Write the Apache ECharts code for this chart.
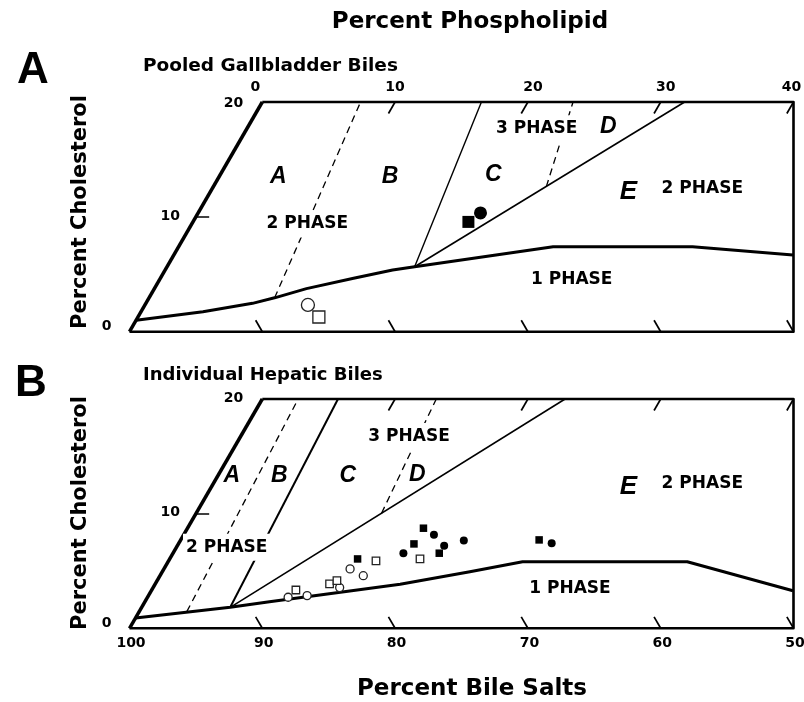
<!DOCTYPE html>
<html><head><meta charset="utf-8">
<script src="https://cdn.jsdelivr.net/npm/echarts@6/dist/echarts.min.js"></script>
<style>html,body{margin:0;padding:0;background:#fff}#c{width:804px;height:702px}</style>
</head><body><div id="c"></div>
<script>
// ===== DATA (every point is [percent bile salts, percent cholesterol]) =====
const bileSaltTicks = [100, 90, 80, 70, 60, 50];
const phospholipidTicks = [0, 10, 20, 30, 40];
const cholesterolTicks = [0, 10, 20];

// Panel A: pooled gallbladder biles
const pooledOnePhaseLimit = [[99.0,1.0],[93.6,1.74],[89.5,2.47],[87.6,2.95],[84.8,3.75],[80.8,4.65],[77.5,5.37],[75.7,5.66],[64.4,7.4],[53.9,7.4],[46.7,6.68]];
const pooledBoundaryAB = [[87.6,2.95],[72.6,20]];       // dashed
const pooledBoundaryBC = [[75.7,5.66],[63.5,20]];       // solid
const pooledBoundaryCE = [[75.7,5.66],[48.2,20]];       // solid
const pooledBoundaryCD = [[62.3,12.63],[56.6,20]];      // dashed
const pooledOpenCircles = [[85.4,2.33]];
const pooledOpenSquares = [[85.1,1.28]];
const pooledFilledSquares = [[69.7,9.56]];
const pooledFilledCircles = [[68.4,10.34]];

// Panel B: individual hepatic biles
const hepaticOnePhaseLimit = [[99.1,0.9],[91.5,1.83],[88.3,2.32],[77.7,3.84],[71.9,4.94],[67.5,5.8],[61.1,5.8],[55.1,5.8],[48.4,3.28]];
const hepaticBoundaryAB = [[94.96,1.45],[77.3,20]];     // dashed
const hepaticBoundaryBC = [[91.5,1.83],[74.3,20]];      // solid
const hepaticBoundaryCE = [[91.5,1.83],[57.2,20]];      // solid
const hepaticBoundaryCD = [[76.0,10.04],[66.9,20]];     // dashed
const hepaticOpenCircles = [[86.7,2.71],[85.2,2.85],[82.4,3.55],[80.8,5.18],[80.1,4.59]];
const hepaticOpenSquares = [[85.8,3.34],[83.0,3.87],[82.3,4.16],[78.5,5.88],[75.1,6.05]];
const hepaticFilledSquares = [[79.8,6.05],[74.9,7.36],[73.5,8.73],[73.4,6.55],[65.3,7.71]];
const hepaticFilledCircles = [[76.1,6.55],[73.0,8.15],[72.7,7.21],[71.0,7.65],[64.5,7.42]];

// ===== ternary -> cartesian (equilateral layout) =====
const T = p => [100 - p[0] - p[1] / 2, p[1]];
const FONT = '"DejaVu Sans", sans-serif';
const ARIAL = '"Liberation Sans", Arial, sans-serif';

function poly(gi, pts, width, dashed, z) {
  return { type: 'line', xAxisIndex: gi, yAxisIndex: gi, data: pts.map(T), symbol: 'none', showSymbol: false,
    clip: false, silent: true, z: z || 2, animation: false,
    lineStyle: { color: '#000', width: width, opacity: 1, type: dashed ? [7, 5] : 'solid', cap: 'butt', join: 'round' } };
}
function segs(gi, list, width) {
  return { type: 'lines', coordinateSystem: 'cartesian2d', xAxisIndex: gi, yAxisIndex: gi, silent: true, z: 2,
    data: list.map(s => ({ coords: s.map(T) })), lineStyle: { color: '#000', width: width, opacity: 1, curveness: 0 } };
}
function marks(gi, pts, shape, size, filled, z) {
  return { type: 'scatter', xAxisIndex: gi, yAxisIndex: gi, data: pts.map(T), symbol: shape, symbolSize: size,
    clip: false, silent: true, z: z,
    itemStyle: filled ? { color: '#000', opacity: 1 } : { color: '#fff', borderColor: '#222', borderWidth: 1.3, opacity: 1 } };
}
function texts(gi, items) {
  return { type: 'scatter', xAxisIndex: gi, yAxisIndex: gi, symbolSize: 1, clip: false, silent: true, z: 10,
    itemStyle: { color: 'rgba(255,255,255,0)', opacity: 1 },
    data: items.map(it => ({ name: it.text, value: it.at,
      label: Object.assign({ show: true, position: 'inside', formatter: '{b}', color: '#000', opacity: 1 }, it.style) })) };
}

const frameLeft = [[bileSaltTicks[0], cholesterolTicks[0]], [bileSaltTicks[0] - cholesterolTicks[2], cholesterolTicks[2]]];
const frameRest = [[bileSaltTicks[0] - cholesterolTicks[2], cholesterolTicks[2]],
  [100 - cholesterolTicks[2] - phospholipidTicks[4], cholesterolTicks[2]],
  [bileSaltTicks[5], 0], [bileSaltTicks[0], 0]];

function frameSeries(gi) {
  const bottomTicks = bileSaltTicks.slice(1).map(b => [[b, 0], [b, 1]]);
  const topTicks = phospholipidTicks.slice(1).map(pl => [[80 - pl, 20], [81 - pl, 19]]);
  const leftTicks = [[[90, 10], [89, 10]]];
  return [poly(gi, frameLeft, 3.5), poly(gi, frameRest, 2.6), segs(gi, bottomTicks.concat(topTicks, leftTicks), 1.7)];
}

const letter = { fontFamily: ARIAL, fontWeight: 'bold', fontStyle: 'italic', fontSize: 23 };
const phase = { fontFamily: FONT, fontWeight: 'bold', fontSize: 17, backgroundColor: '#fff', padding: [5, 3] };
const tick = { fontFamily: FONT, fontWeight: 'bold', fontSize: 14 };

// layout of annotations, in diagram coordinates [x, cholesterol]
const textsA = [
  { text: 'A', at: [11.2, 13.5], style: letter }, { text: 'B', at: [19.62, 13.5], style: letter },
  { text: 'C', at: [27.39, 13.65], style: letter }, { text: 'D', at: [36.05, 17.86], style: letter },
  { text: 'E', at: [37.56, 12.2], style: Object.assign({}, letter, { fontSize: 26 }) },
  { text: '2 PHASE', at: [13.39, 9.38], style: phase }, { text: '3 PHASE', at: [30.66, 17.66], style: phase },
  { text: '2 PHASE', at: [43.13, 12.49], style: phase }, { text: '1 PHASE', at: [33.3, 4.5], style: phase }
];
const textsB = [
  { text: 'A', at: [7.7, 13.3], style: letter }, { text: 'B', at: [11.28, 13.3], style: letter },
  { text: 'C', at: [16.43, 13.3], style: letter }, { text: 'D', at: [21.67, 13.39], style: letter },
  { text: 'E', at: [37.56, 12.31], style: Object.assign({}, letter, { fontSize: 26 }) },
  { text: '3 PHASE', at: [21.05, 16.73], style: phase }, { text: '2 PHASE', at: [7.32, 7.07], style: phase },
  { text: '2 PHASE', at: [43.13, 12.6], style: phase }, { text: '1 PHASE', at: [33.17, 3.49], style: phase }
];
const plNudge = [-7, 0, 5, 5, -2];
const cholOffA = [[-18, -5], [-16, 0], [-19, 1]];
const cholOffB = [[-18, -5], [-16, -1], [-19, -1]];
const tickTextsA = phospholipidTicks.map((pl, i) => ({ text: String(pl), at: [pl + 10, 20],
  style: Object.assign({ offset: [plNudge[i], -15] }, tick) }))
  .concat(cholesterolTicks.map((c, i) => ({ text: String(c), at: [c / 2, c],
  style: Object.assign({ align: 'right', offset: cholOffA[i] }, tick) })));
const tickTextsB = bileSaltTicks.map(b => ({ text: String(b), at: [100 - b, 0],
  style: Object.assign({ offset: [1.5, 15] }, tick) }))
  .concat(cholesterolTicks.map((c, i) => ({ text: String(c), at: [c / 2, c],
  style: Object.assign({ align: 'right', offset: cholOffB[i] }, tick) })));

const series = [].concat(
  frameSeries(0),
  [poly(0, pooledOnePhaseLimit, 3), poly(0, pooledBoundaryAB, 1.3, true), poly(0, pooledBoundaryBC, 1.4),
   poly(0, pooledBoundaryCE, 1.6), poly(0, pooledBoundaryCD, 1.3, true),
   marks(0, pooledOpenCircles, 'circle', 13, false, 4), marks(0, pooledOpenSquares, 'rect', 12, false, 5),
   marks(0, pooledFilledSquares, 'rect', 12, true, 5), marks(0, pooledFilledCircles, 'circle', 13, true, 5),
   texts(0, textsA.concat(tickTextsA))],
  frameSeries(1),
  [poly(1, hepaticOnePhaseLimit, 3), poly(1, hepaticBoundaryAB, 1.3, true), poly(1, hepaticBoundaryBC, 2),
   poly(1, hepaticBoundaryCE, 1.6), poly(1, hepaticBoundaryCD, 1.3, true),
   marks(1, hepaticOpenCircles, 'circle', 8, false, 4), marks(1, hepaticOpenSquares, 'rect', 7.5, false, 4),
   marks(1, hepaticFilledSquares, 'rect', 7.5, true, 5), marks(1, hepaticFilledCircles, 'circle', 8, true, 5),
   texts(1, textsB.concat(tickTextsB))]
);

const chart = echarts.init(document.getElementById('c'), null, { renderer: 'canvas' });
chart.setOption({
  animation: false,
  backgroundColor: '#fff',
  grid: [{ left: 129.5, top: 102, width: 664, height: 229.7 }, { left: 129.5, top: 399, width: 664, height: 229.3 }],
  xAxis: [{ gridIndex: 0, type: 'value', min: 0, max: 50, show: false }, { gridIndex: 1, type: 'value', min: 0, max: 50, show: false }],
  yAxis: [{ gridIndex: 0, type: 'value', min: 0, max: 20, show: false }, { gridIndex: 1, type: 'value', min: 0, max: 20, show: false }],
  graphic: [
    { type: 'text', x: 470, y: 22, style: { text: 'Percent Phospholipid', font: 'bold 23px ' + FONT, fill: '#000', textAlign: 'center', textVerticalAlign: 'middle' } },
    { type: 'text', x: 472, y: 689, style: { text: 'Percent Bile Salts', font: 'bold 23px ' + FONT, fill: '#000', textAlign: 'center', textVerticalAlign: 'middle' } },
    { type: 'text', x: 33, y: 71, style: { text: 'A', font: 'bold 44px ' + ARIAL, fill: '#000', textAlign: 'center', textVerticalAlign: 'middle' } },
    { type: 'text', x: 31, y: 384, style: { text: 'B', font: 'bold 44px ' + ARIAL, fill: '#000', textAlign: 'center', textVerticalAlign: 'middle' } },
    { type: 'text', x: 143, y: 66, style: { text: 'Pooled Gallbladder Biles', font: 'bold 18.5px ' + FONT, fill: '#000', textAlign: 'left', textVerticalAlign: 'middle' } },
    { type: 'text', x: 143, y: 375, style: { text: 'Individual Hepatic Biles', font: 'bold 18px ' + FONT, fill: '#000', textAlign: 'left', textVerticalAlign: 'middle' } },
    { type: 'text', x: 81, y: 212, rotation: Math.PI / 2, style: { text: 'Percent Cholesterol', font: 'bold 21px ' + FONT, fill: '#000', textAlign: 'center', textVerticalAlign: 'middle' } },
    { type: 'text', x: 81, y: 513, rotation: Math.PI / 2, style: { text: 'Percent Cholesterol', font: 'bold 21px ' + FONT, fill: '#000', textAlign: 'center', textVerticalAlign: 'middle' } }
  ],
  series: series
});
</script></body></html>
